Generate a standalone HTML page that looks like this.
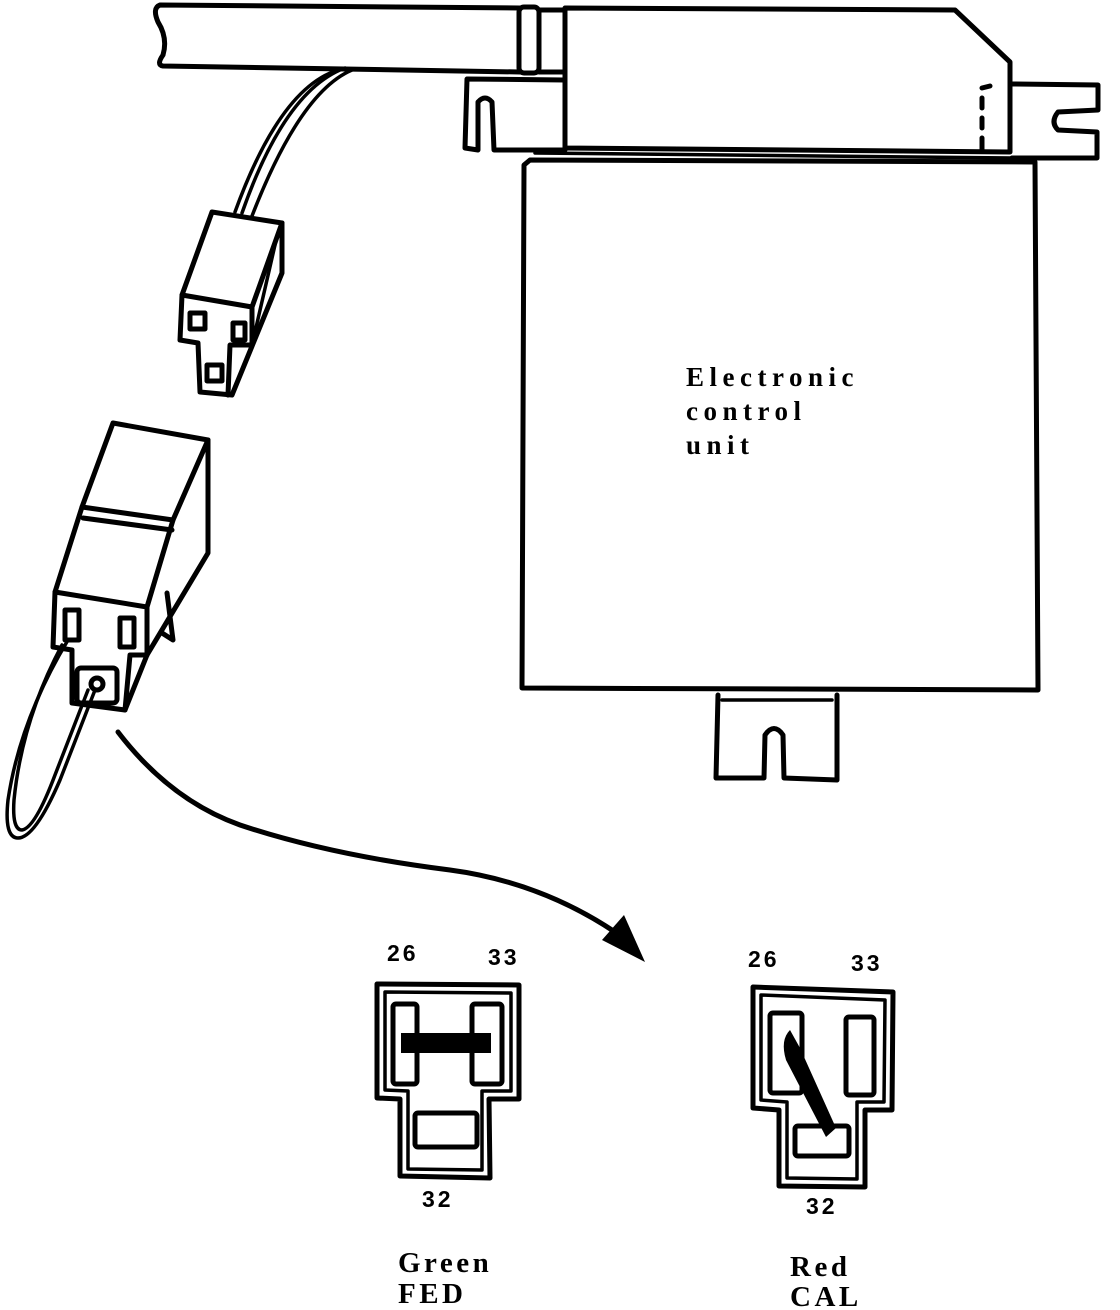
<!DOCTYPE html>
<html><head><meta charset="utf-8"><style>
html,body{margin:0;padding:0;background:#fff;}
svg{display:block;}
.s{fill:none;stroke:#000;stroke-width:5;stroke-linejoin:round;stroke-linecap:round;}
.t{fill:none;stroke:#000;stroke-width:3.5;stroke-linejoin:round;stroke-linecap:round;}
.lab{font-family:"Liberation Serif",serif;font-weight:bold;font-size:27px;fill:#000;letter-spacing:5.5px;}
.lab2{font-family:"Liberation Serif",serif;font-weight:bold;font-size:29px;fill:#000;letter-spacing:3.5px;}
.num{font-family:"Liberation Sans",sans-serif;font-weight:bold;font-size:23px;fill:#000;letter-spacing:3px;}
</style></head><body>
<svg width="1120" height="1310" viewBox="0 0 1120 1310" xmlns="http://www.w3.org/2000/svg">
<path class="s" d="M520 8 L160 5 Q152 8 158 22 Q168 38 163 55 Q156 65 163 66 L520 72"/>
<rect class="s" x="519" y="7" width="20" height="66" rx="5"/>
<line class="s" x1="539" y1="10" x2="565" y2="10"/>
<line class="s" x1="539" y1="72" x2="565" y2="72"/>
<path class="s" d="M565 8 L955 10 L1010 62 L1010 152 L565 148 Z"/>
<path class="s" d="M982 88 L990 86 M982 98 L982 108 M982 118 L982 128 M982 138 L982 150" />
<path class="s" d="M565 80 L467 79 L465 148 L478 150 L478 102 Q485 94 492 102 L494 150 L565 150"/>
<path class="s" d="M1012 84 L1098 85 L1098 110 L1058 112 Q1050 122 1058 130 L1097 132 L1097 158 L1012 158"/>
<path class="s" d="M530 160 L1035 162 L1038 690 L522 688 L524 165 Z"/>
<path class="t" d="M535 153 L1012 158"/>
<path class="s" d="M718 695 L716 778 L764 778 L765 735 Q774 722 783 735 L784 778 L837 780 L837 695"/>
<path class="t" d="M722 700 L832 700"/>
<text class="lab" x="686" y="386">Electronic</text>
<text class="lab" x="686" y="420">control</text>
<text class="lab" x="686" y="454">unit</text>
<path class="t" d="M345 68 Q285 90 242 213"/>
<path class="t" d="M352 70 Q300 92 252 216"/>
<path class="t" d="M338 70 Q280 88 235 212"/>
<path class="s" d="M212 212 L282 223 L282 273 L232 395 L200 392 L198 343 L180 340 L182 295 Z"/>
<path class="s" d="M182 295 L252 307 L282 223"/>
<path class="s" d="M252 307 L252 345 L230 345 L228 395"/>
<path class="t" d="M252 345 L275 245"/>
<rect class="s" x="190" y="313" width="15" height="16"/>
<rect class="s" x="233" y="323" width="12" height="17"/>
<rect class="s" x="207" y="365" width="15" height="16"/>
<path class="s" d="M113 423 L208 440 L208 553 L147 655 L147 607 L55 592 L82 507 Z"/>
<path class="s" d="M82 507 L173 520 L208 440"/>
<path class="s" d="M83 518 L172 530"/>
<path class="s" d="M173 520 L147 607"/>
<path class="s" d="M55 592 L53 647 L72 650 L72 703 L125 710 L147 655"/>
<path class="s" d="M147 655 L130 655 L125 710"/>
<path class="s" d="M167 593 L173 640 L162 633"/>
<rect class="s" x="65" y="610" width="14" height="30"/>
<rect class="s" x="120" y="618" width="14" height="29"/>
<rect class="s" x="77" y="668" width="40" height="35" rx="4"/>
<circle class="s" cx="97" cy="684" r="6"/>
<path class="t" d="M68 640 Q20 720 8 800 Q4 838 18 838 Q35 838 60 780 L95 690"/>
<path class="t" d="M62 645 Q22 720 14 800 Q12 830 22 830 Q35 828 55 775 L88 690"/>
<path class="s" d="M118 732 Q170 800 240 825 Q330 855 450 870 Q540 882 615 932"/>
<polygon points="645,962 602,940 624,915" fill="#000"/>
<path class="s" d="M377 984 L519 985 L519 1099 L489 1099 L490 1178 L400 1176 L400 1099 L377 1098 Z"/>
<path class="t" d="M385 992 L511 993 L511 1091 L482 1091 L482 1170 L408 1169 L408 1091 L385 1090 Z"/>
<rect class="s" x="393" y="1004" width="24" height="80" rx="3"/>
<rect class="s" x="472" y="1004" width="30" height="80" rx="3"/>
<rect x="401" y="1033" width="90" height="20" fill="#000"/>
<rect class="s" x="415" y="1113" width="62" height="34" rx="3"/>
<text class="num" x="387" y="961">26</text>
<text class="num" x="488" y="965">33</text>
<text class="num" x="422" y="1207">32</text>
<text class="lab2" x="398" y="1272">Green</text>
<text class="lab2" x="398" y="1303">FED</text>
<path class="s" d="M753 987 L893 992 L892 1110 L865 1110 L865 1187 L779 1186 L779 1110 L753 1108 Z"/>
<path class="t" d="M761 995 L885 1000 L884 1102 L857 1102 L857 1179 L787 1178 L787 1102 L761 1100 Z"/>
<rect class="s" x="770" y="1013" width="32" height="80" rx="3"/>
<rect class="s" x="846" y="1017" width="28" height="78" rx="3"/>
<rect class="s" x="795" y="1126" width="54" height="30" rx="3"/>
<path d="M790 1030 L800 1048 L836 1128 L826 1137 L786 1060 Q780 1040 790 1030 Z" fill="#000"/>
<text class="num" x="748" y="967">26</text>
<text class="num" x="851" y="971">33</text>
<text class="num" x="806" y="1214">32</text>
<text class="lab2" x="790" y="1276">Red</text>
<text class="lab2" x="790" y="1306">CAL</text>
</svg>
</body></html>
